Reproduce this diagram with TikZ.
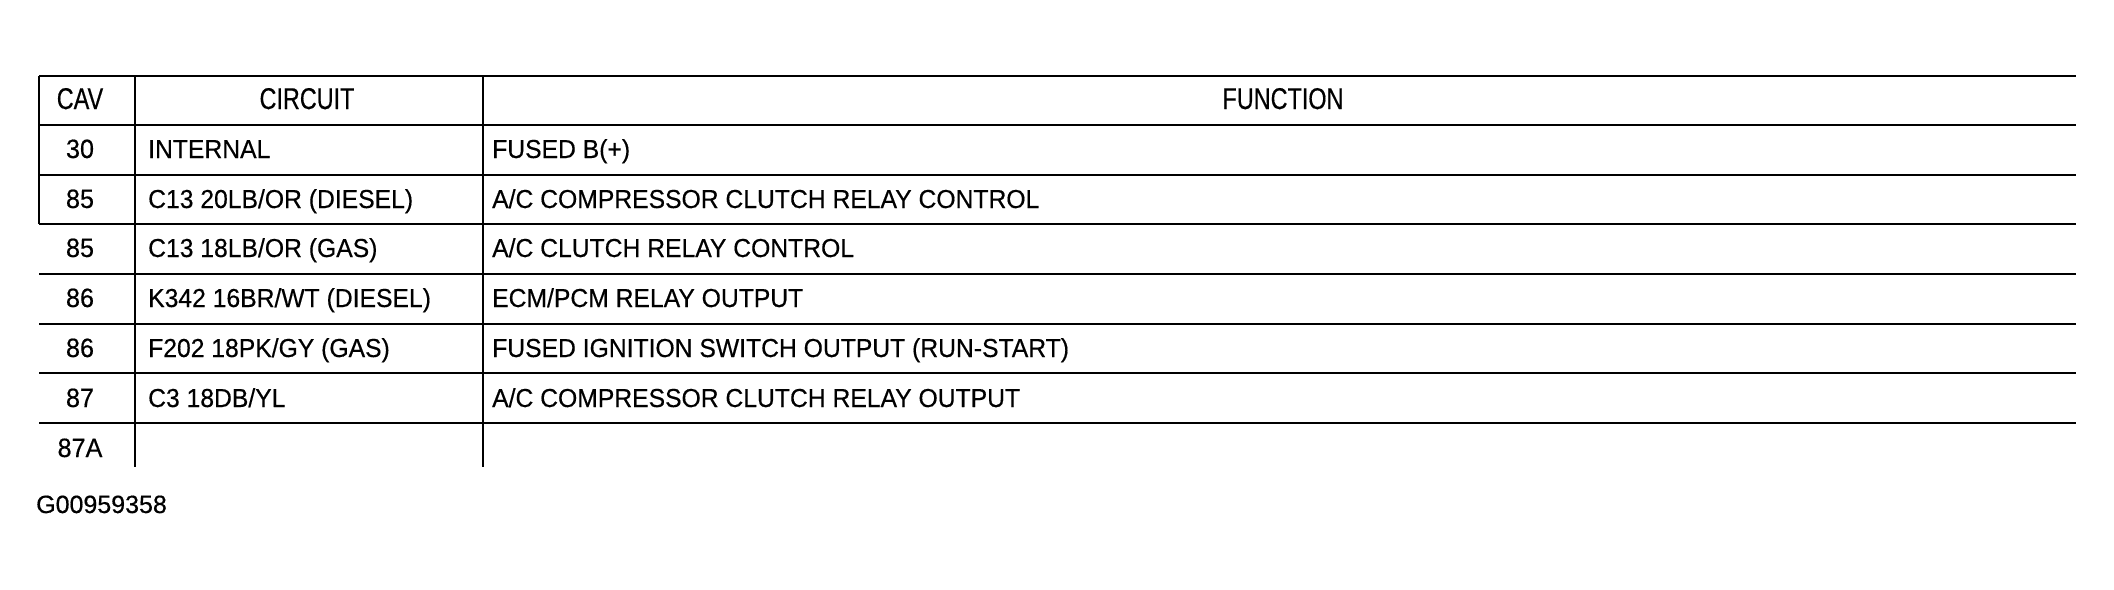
\documentclass[tikz,border=0pt]{standalone}
\usepackage{fontspec}
\setmainfont{Liberation Sans}
\newfontfamily\hdrfont[FakeStretch=0.78,FakeBold=0.4]{Liberation Sans}
\newfontfamily\datfont[FakeStretch=0.95,FakeBold=0.4]{Liberation Sans}
\newfontfamily\idfont[FakeBold=0.5]{Liberation Sans}
\begin{document}
\begin{tikzpicture}[x=1pt,y=-1pt,
  hdr/.style={font=\hdrfont\fontsize{30}{30}\selectfont, anchor=base, inner sep=0pt},
  cavtxt/.style={font=\datfont\fontsize{26.5}{26.5}\selectfont, anchor=base, inner sep=0pt},
  celltxt/.style={font=\datfont\fontsize{26}{26}\selectfont, anchor=base west, inner sep=0pt},
  idtxt/.style={font=\idfont\fontsize{25}{25}\selectfont, anchor=base west, inner sep=0pt},
  hline/.style={line width=2.9pt},
  vline/.style={line width=2.3pt}]
\fill[white] (0,0) rectangle (2114,589);
\useasboundingbox (0,0) rectangle (2114,589);
% horizontal rules
\foreach \y in {76,125,175,224,274,324,373,423}
  \draw[hline] (39,\y) -- (2076,\y);
% vertical rules
\draw[vline] (39,76) -- (39,224);
\draw[vline] (135,76) -- (135,467);
\draw[vline] (483,76) -- (483,467);
% header
\node[hdr] (hcav) at (80,109) {CAV};
\node[hdr] (hcir) at (307,109) {CIRCUIT};
\node[hdr] (hfun) at (1283,109) {FUNCTION};
% rows
\foreach \i/\y/\cav/\cir/\fun in {
  1/158/30/INTERNAL/FUSED B(+),
  2/208/85/C13 20LB\slash OR (DIESEL)/A\slash C COMPRESSOR CLUTCH RELAY CONTROL,
  3/257/85/C13 18LB\slash OR (GAS)/A\slash C CLUTCH RELAY CONTROL,
  4/307/86/K342 16BR\slash WT (DIESEL)/ECM\slash PCM RELAY OUTPUT,
  5/357/86/F202 18PK\slash GY (GAS)/FUSED IGNITION SWITCH OUTPUT (RUN-START),
  6/407/87/C3 18DB\slash YL/A\slash C COMPRESSOR CLUTCH RELAY OUTPUT}{
  \node[cavtxt] (cav\i) at (80,\y) {\cav};
  \node[celltxt] (cir\i) at (148,\y) {\cir};
  \node[celltxt] (fun\i) at (492,\y) {\fun};
}
\node[cavtxt] (cav7) at (80,457) {87A};
\node[idtxt] (gid) at (36,513) {G00959358};
\end{tikzpicture}
\end{document}
